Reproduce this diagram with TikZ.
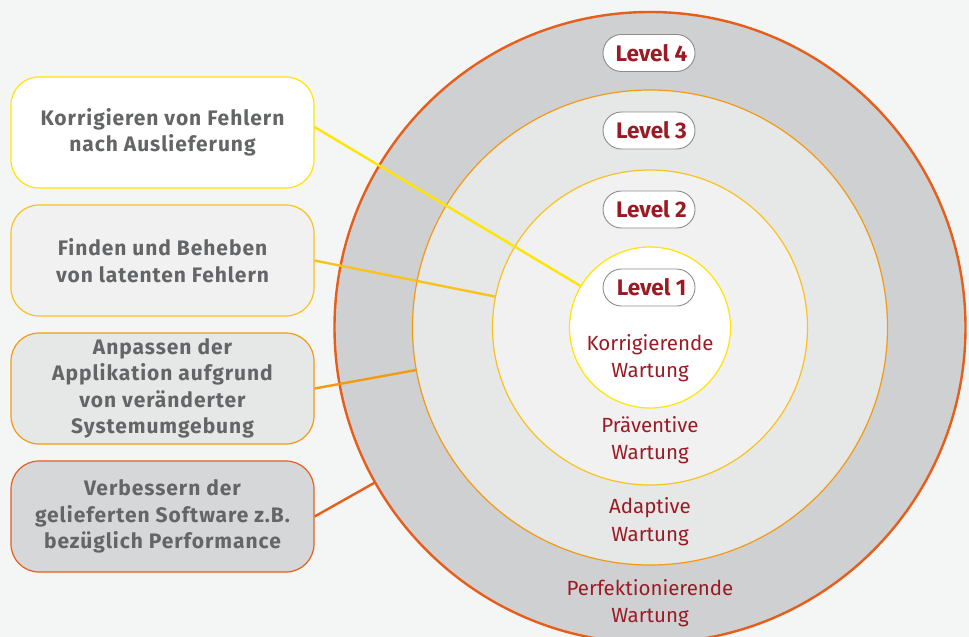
\documentclass[tikz,border=0pt]{standalone}
\usepackage{fontspec}
\setmainfont{Fira Sans}
\definecolor{bgc}{HTML}{F4F5F5}
\definecolor{ring4}{HTML}{CFD0D2}
\definecolor{ring3}{HTML}{E6E7E7}
\definecolor{ring2}{HTML}{F1F1F1}
\definecolor{c1}{HTML}{FFE500}
\definecolor{c2}{HTML}{FAC21E}
\definecolor{c3}{HTML}{F39A12}
\definecolor{c4}{HTML}{E65E1A}
\definecolor{redtxt}{HTML}{9A1B24}
\definecolor{graytxt}{HTML}{646567}
\definecolor{pillb}{HTML}{8C8C8C}
\tikzset{
  ring/.style={circle, inner sep=0pt, draw},
  pill/.style={draw=pillb, line width=0.9pt, fill=white, rounded corners=18.5pt,
    minimum width=92pt, minimum height=37pt, inner sep=0pt,
    text=redtxt, font=\fontsize{22.5}{26}\selectfont\bfseries},
  wlabel/.style={text=redtxt, align=center, font=\fontsize{20.5}{27.5}\selectfont},
  infobox/.style={rounded corners=28pt, minimum width=303pt, minimum height=111pt,
    inner sep=0pt, line width=1.2pt, text=graytxt, align=center,
    font=\fontsize{21}{26.5}\selectfont\bfseries\addfontfeatures{LetterSpace=4.5}},
  conn/.style={line width=2.4pt}
}
\begin{document}
\begin{tikzpicture}[x=1pt,y=-1pt]
\useasboundingbox (0,0) rectangle (969,637);
\fill[bgc] (0,0) rectangle (969,637);
\begin{scope}
\clip (0,0) rectangle (969,637);
\node[ring, draw=c4, fill=ring4, line width=2.4pt, minimum size=631pt] (r4) at (650,327.5) {};
\node[ring, draw=c3, fill=ring3, line width=1.2pt, minimum size=475pt] (r3) at (650,327.5) {};
\node[ring, draw=c2, fill=ring2, line width=1.2pt, minimum size=315pt] (r2) at (650,327.5) {};
\node[ring, draw=c1, fill=white, line width=1.2pt, minimum size=161pt] (r1) at (650,327.5) {};
\end{scope}
\node[pill] (p4) at (649,53) {\hspace*{5pt}Level 4};
\node[pill] (p3) at (649,130.5) {\hspace*{5pt}Level 3};
\node[pill] (p2) at (649,209.5) {\hspace*{5pt}Level 2};
\node[pill] (p1) at (649,287.5) {\hspace*{5pt}Level 1};
\node[wlabel] (w1) at (650,358) {Korrigierende\\Wartung};
\node[wlabel] (w2) at (650,440) {Präventive\\Wartung};
\node[wlabel] (w3) at (650,521.5) {Adaptive\\Wartung};
\node[wlabel] (w4) at (650,603) {Perfektionierende\\Wartung};
\node[infobox, draw=c1, fill=white] (b1) at (162.5,132.5) {Korrigieren von Fehlern\\nach Auslieferung};
\node[infobox, draw=c2, fill=ring2] (b2) at (162.5,260.5) {Finden und Beheben\\von latenten Fehlern};
\node[infobox, draw=c3, fill=ring3] (b3) at (162.5,388.5) {Anpassen der\\Applikation aufgrund\\von veränderter\\Systemumgebung};
\node[infobox, draw=c4, fill=ring4!85!white] (b4) at (162.5,516.5) {Verbessern der\\gelieferten Software z.B.\\bezüglich Performance};
\draw[conn, c1] (b1.east |- 0,127) -- (r1);
\draw[conn, c2] (b2.east) -- (r2);
\draw[conn, c3] (b3.east) -- (r3);
\draw[conn, c4] (b4.east) -- (r4);
\end{tikzpicture}
\end{document}
